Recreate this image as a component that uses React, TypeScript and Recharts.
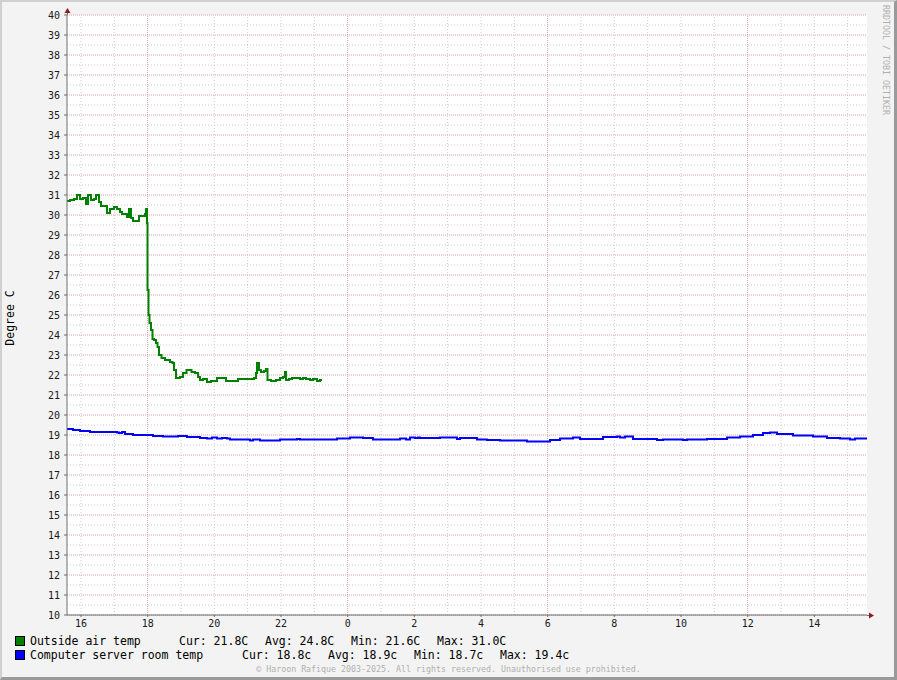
import React from "react";
import { LineChart, Line, XAxis, YAxis, CartesianGrid, ReferenceLine } from "recharts";

// ---- data (hours since midnight of day 1; values in degrees C) ----
const outsideT = [
  15.58, 15.67, 15.79, 15.88, 15.97, 16.06, 16.15, 16.21, 16.3, 16.39, 16.45, 16.54, 16.6, 16.69, 16.78,
  16.87, 16.99, 17.08, 17.17, 17.23, 17.32, 17.38, 17.44, 17.5, 17.56, 17.68, 17.74, 17.83, 17.92, 17.95,
  17.98, 17.995, 18.025, 18.055, 18.1, 18.145, 18.19, 18.25, 18.295, 18.34, 18.415, 18.52, 18.67, 18.745,
  18.79, 18.85, 18.97, 19.06, 19.165, 19.315, 19.42, 19.51, 19.57, 19.66, 19.78, 19.9, 19.99, 20.08, 20.23,
  20.35, 20.5, 20.71, 20.86, 21.07, 21.19, 21.25, 21.28, 21.34, 21.4, 21.49, 21.55, 21.595, 21.7, 21.85,
  21.97, 22.06, 22.12, 22.15, 22.24, 22.33, 22.48, 22.57, 22.66, 22.75, 22.87, 22.96, 23.08, 23.17, 23.23,
];
const outsideV = [
  30.7, 30.75, 30.8, 31.0, 30.8, 30.85, 30.55, 31.0, 30.75, 30.8, 31.0, 30.65, 30.45, 30.45, 30.1,
  30.3, 30.4, 30.3, 30.15, 30.05, 30.05, 29.9, 30.3, 29.85, 29.7, 29.7, 29.95, 29.95, 30.05, 30.3,
  29.6, 26.25, 25.0, 24.6, 24.25, 23.8, 23.75, 23.6, 23.4, 23.0, 22.85, 22.75, 22.65, 22.6,
  22.25, 21.85, 21.9, 22.1, 22.25, 22.15, 22.1, 21.9, 21.75, 21.8, 21.65, 21.7, 21.7, 21.85, 21.85,
  21.7, 21.7, 21.8, 21.8, 21.8, 21.85, 22.1, 22.6, 22.25, 22.15, 22.2, 22.3, 21.75, 21.7, 21.75,
  21.85, 21.9, 22.15, 21.75, 21.8, 21.85, 21.85, 21.8, 21.85, 21.8, 21.75, 21.8, 21.7, 21.75, 21.75,
];
const serverT = [
  15.58, 15.76, 15.97, 16.27, 17.08, 17.14, 17.23, 17.32, 17.56, 18.16, 18.46, 18.91, 19.18, 19.57, 19.78,
  19.93, 20.08, 20.23, 20.38, 20.47, 21.07, 21.16, 21.37, 21.97, 22.48, 22.57, 23.68, 24.07, 24.46, 24.76,
  25.57, 25.75, 25.87, 26.02, 26.11, 26.17, 26.77, 27.28, 27.37, 27.88, 28.18, 28.57, 29.38, 30.07, 30.37,
  30.76, 30.97, 31.66, 32.08, 32.17, 32.32, 32.56, 33.28, 33.46, 34.06, 34.18, 34.78, 35.38, 35.77, 36.16,
  36.46, 36.67, 36.88, 37.36, 37.96, 38.38, 38.77, 39.07, 39.22, 39.37, 39.58,
];
const serverV = [
  19.3, 19.25, 19.2, 19.15, 19.12, 19.1, 19.15, 19.05, 19.0, 18.95, 18.93, 18.95, 18.9, 18.85, 18.83,
  18.87, 18.82, 18.85, 18.82, 18.78, 18.73, 18.78, 18.73, 18.78, 18.8, 18.78, 18.83, 18.88, 18.85, 18.78,
  18.83, 18.78, 18.87, 18.85, 18.88, 18.85, 18.88, 18.8, 18.85, 18.78, 18.75, 18.72, 18.67, 18.75, 18.83,
  18.87, 18.8, 18.9, 18.92, 18.88, 18.92, 18.8, 18.75, 18.78, 18.75, 18.78, 18.8, 18.87, 18.92, 19.0,
  19.1, 19.13, 19.05, 18.97, 18.92, 18.85, 18.82, 18.78, 18.82, 18.83, 18.85,
];

const xTicks = [16, 18, 20, 22, 24, 26, 28, 30, 32, 34, 36, 38];
const yTicks = [10, 11, 12, 13, 14, 15, 16, 17, 18, 19, 20, 21, 22, 23, 24, 25, 26, 27, 28, 29, 30, 31, 32, 33, 34, 35, 36, 37, 38, 39, 40];
const hourGrid = [16, 17, 19, 20, 21, 22, 23, 25, 26, 27, 28, 29, 31, 32, 33, 34, 35, 37, 38, 39];
const majorHourGrid = [18, 24, 30, 36];
const xDomain = [15.58, 39.58];

const legendRows = [
  { name: "Outside air temp", color: "#008000", cur: "Cur: 21.8C", avg: "Avg: 24.8C", min: "Min: 21.6C", max: "Max: 31.0C" },
  { name: "Computer server room temp", color: "#0000FF", cur: "Cur: 18.8c", avg: "Avg: 18.9c", min: "Min: 18.7c", max: "Max: 19.4c" },
];

const outsideData = outsideT.map((t, i) => ({ t, v: outsideV[i] }));
const serverData = serverT.map((t, i) => ({ t, v: serverV[i] }));

const MONO = "'DejaVu Sans Mono', monospace";

export default function App() {
  const minorY = yTicks.slice(0, -1).map((v) => v + 0.5);
  const legendCols = [
    [179, 265, 351, 437],
    [242, 328, 414, 500],
  ];
  return (
    <div style={{ position: "absolute", left: 0, top: 0, width: 897, height: 680, background: "#F3F3F3", fontFamily: MONO }}>
      <div style={{ position: "absolute", left: 0, top: 0 }}>
        <LineChart width={897} height={680} margin={{ top: 15, right: 30, bottom: 0, left: 0 }}>
          <CartesianGrid stroke="transparent" fill="#ffffff" fillOpacity={1} horizontal={false} vertical={false} />
          {hourGrid.map((h) => (
            <ReferenceLine key={"hx" + h} x={h} stroke="#cccccc" strokeDasharray="1 2" strokeWidth={1} />
          ))}
          {minorY.map((v) => (
            <ReferenceLine key={"my" + v} y={v} stroke="#cccccc" strokeDasharray="1 2" strokeWidth={1} />
          ))}
          {majorHourGrid.map((h) => (
            <ReferenceLine key={"Mx" + h} x={h} stroke="#d9a3a3" strokeDasharray="1 1" strokeWidth={1} />
          ))}
          {yTicks.map((v) => (
            <ReferenceLine key={"My" + v} y={v} stroke="#d9a3a3" strokeDasharray="1 1" strokeWidth={1} />
          ))}
          <XAxis
            dataKey="t"
            type="number"
            domain={xDomain}
            ticks={xTicks}
            allowDataOverflow
            height={65}
            tickFormatter={(h: number) => String(h % 24)}
            tick={{ fontSize: 10, fill: "#1a1a1a", fontFamily: MONO }}
            tickSize={2}
            tickMargin={3}
            axisLine={{ stroke: "#6e6e6e" }}
            tickLine={{ stroke: "#6e6e6e" }}
          />
          <YAxis
            type="number"
            domain={[10, 40]}
            ticks={yTicks}
            interval={0}
            allowDataOverflow
            width={67}
            tick={{ fontSize: 10, fill: "#1a1a1a", fontFamily: MONO }}
            tickSize={3}
            tickMargin={4}
            axisLine={{ stroke: "#6e6e6e" }}
            tickLine={{ stroke: "#6e6e6e" }}
          />
          <Line data={serverData} dataKey="v" type="stepAfter" stroke="#0000FF" strokeWidth={2} dot={false} isAnimationActive={false} />
          <Line data={outsideData} dataKey="v" type="stepAfter" stroke="#008000" strokeWidth={2} dot={false} isAnimationActive={false} />
        </LineChart>
      </div>
      {/* axis arrows */}
      <svg width={897} height={680} style={{ position: "absolute", left: 0, top: 0, pointerEvents: "none" }}>
        <line x1={67.5} y1={9} x2={67.5} y2={15} stroke="#6e6e6e" />
        <line x1={867} y1={615.5} x2={871} y2={615.5} stroke="#6e6e6e" />
        <polygon points="64.5,13 70.5,13 67.5,8" fill="#8e1c1c" />
        <polygon points="869,612.5 869,618.5 874,615.5" fill="#8e1c1c" />
      </svg>
      {/* y label */}
      <div
        style={{
          position: "absolute",
          left: 10,
          top: 318,
          transform: "translate(-50%, -50%) rotate(-90deg)",
          fontSize: 11.5,
          whiteSpace: "pre",
          color: "#000",
        }}
      >
        Degree C
      </div>
      {/* watermark */}
      <div
        style={{
          position: "absolute",
          left: 881,
          top: 5,
          writingMode: "vertical-rl",
          fontSize: 8.3,
          color: "#b0b0b0",
          whiteSpace: "pre",
          lineHeight: "10px",
        }}
      >
        RRDTOOL / TOBI OETIKER
      </div>
      {/* legend */}
      {legendRows.map((r, i) => {
        const cy = 641 + i * 14;
        return (
          <React.Fragment key={r.name}>
            <div
              style={{
                position: "absolute",
                left: 15,
                top: cy - 5,
                width: 8,
                height: 8,
                background: r.color,
                border: "1px solid #000",
              }}
            />
            {[r.name, r.cur, r.avg, r.min, r.max].map((s, j) => (
              <div
                key={j}
                style={{
                  position: "absolute",
                  left: j === 0 ? 30 : legendCols[i][j - 1],
                  top: cy - 8,
                  fontSize: 11.5,
                  lineHeight: "16px",
                  whiteSpace: "pre",
                  color: "#000",
                }}
              >
                {s}
              </div>
            ))}
          </React.Fragment>
        );
      })}
      <div
        style={{
          position: "absolute",
          left: 0,
          width: 897,
          top: 664,
          textAlign: "center",
          fontSize: 8.3,
          lineHeight: "10px",
          color: "#b0b0b0",
          whiteSpace: "pre",
        }}
      >
        © Haroon Rafique 2003-2025. All rights reserved. Unauthorised use prohibited.
      </div>
      {/* frame */}
      <div
        style={{
          position: "absolute",
          left: 0,
          top: 0,
          width: 897,
          height: 680,
          boxSizing: "border-box",
          borderTop: "2px solid #d0d0d0",
          borderLeft: "2px solid #d0d0d0",
          borderRight: "3px solid #9a9a9a",
          borderBottom: "3px solid #9a9a9a",
          pointerEvents: "none",
        }}
      />
    </div>
  );
}
